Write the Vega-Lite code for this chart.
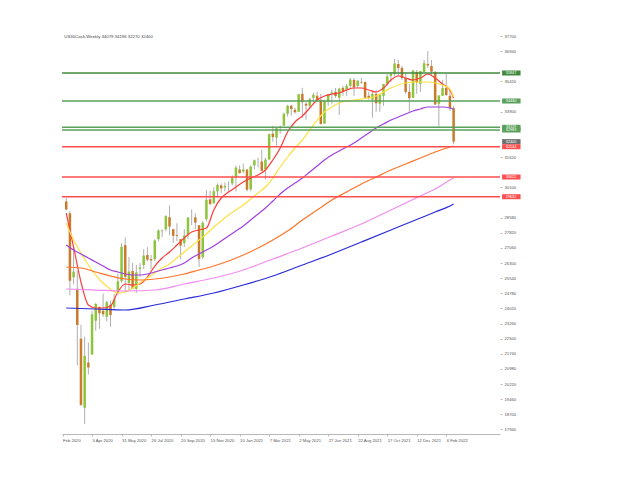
{
  "$schema": "https://vega.github.io/schema/vega-lite/v6.json",
  "autosize": "none",
  "width": 438,
  "height": 403,
  "padding": {"left": 62, "top": 31, "right": 140, "bottom": 46},
  "background": "white",
  "config": {
    "view": {"stroke": null},
    "font": "Liberation Sans",
    "axis": {"labelOverlap": false, "grid": false, "title": null, "labelFont": "Liberation Sans"},
    "axisX": {"domain": true, "domainColor": "#b8b8b8", "ticks": true, "tickSize": 2, "tickColor": "#b8b8b8", "labelFontSize": 4.2, "labelColor": "#555555", "labelAlign": "left", "labelPadding": 2, "labelOverlap": false, "labelFlush": false},
    "axisY": {"domain": false, "ticks": true, "tickSize": 2, "tickColor": "#b8b8b8", "labelFontSize": 4.2, "labelColor": "#555555", "labelPadding": 2, "labelOverlap": false, "labelFlush": false}
  },
  "title": {"text": "US30Cash,Weekly  34079 34196 32270 32400", "anchor": "start", "fontSize": 4.3, "font": "Liberation Sans", "fontWeight": "normal", "color": "#444444", "dx": 3, "dy": 8, "offset": 0},
  "datasets": {
    "candles": [
      {"d": "2020-02-16", "o": 29398, "h": 29568, "l": 28930, "c": 28992},
      {"d": "2020-02-23", "o": 28800, "h": 28900, "l": 24681, "c": 25409},
      {"d": "2020-03-01", "o": 25590, "h": 27102, "l": 25226, "c": 25864},
      {"d": "2020-03-08", "o": 25000, "h": 25900, "l": 21154, "c": 23186},
      {"d": "2020-03-15", "o": 22500, "h": 23200, "l": 19121, "c": 19174},
      {"d": "2020-03-22", "o": 19028, "h": 22600, "l": 18213, "c": 21637},
      {"d": "2020-03-29", "o": 21300, "h": 22300, "l": 20700, "c": 21053},
      {"d": "2020-04-05", "o": 21700, "h": 23900, "l": 21700, "c": 23719},
      {"d": "2020-04-12", "o": 23400, "h": 24300, "l": 22900, "c": 24242},
      {"d": "2020-04-19", "o": 24100, "h": 24100, "l": 23000, "c": 23775},
      {"d": "2020-04-26", "o": 23900, "h": 24760, "l": 23600, "c": 23724},
      {"d": "2020-05-03", "o": 23600, "h": 24400, "l": 23360, "c": 24331},
      {"d": "2020-05-10", "o": 24200, "h": 24400, "l": 23100, "c": 23685},
      {"d": "2020-05-17", "o": 24100, "h": 24750, "l": 24000, "c": 24465},
      {"d": "2020-05-24", "o": 24800, "h": 25760, "l": 24700, "c": 25383},
      {"d": "2020-05-31", "o": 25400, "h": 27300, "l": 25300, "c": 27111},
      {"d": "2020-06-07", "o": 27200, "h": 27580, "l": 24840, "c": 25605},
      {"d": "2020-06-14", "o": 25300, "h": 26600, "l": 24960, "c": 25871},
      {"d": "2020-06-21", "o": 25900, "h": 26300, "l": 25000, "c": 25016},
      {"d": "2020-06-28", "o": 25000, "h": 26200, "l": 24800, "c": 25827},
      {"d": "2020-07-05", "o": 26000, "h": 26300, "l": 25600, "c": 26075},
      {"d": "2020-07-12", "o": 26200, "h": 27000, "l": 26000, "c": 26672},
      {"d": "2020-07-19", "o": 26700, "h": 27100, "l": 26400, "c": 26470},
      {"d": "2020-07-26", "o": 26500, "h": 26700, "l": 26000, "c": 26428},
      {"d": "2020-08-02", "o": 26500, "h": 27500, "l": 26400, "c": 27433},
      {"d": "2020-08-09", "o": 27500, "h": 28000, "l": 27400, "c": 27931},
      {"d": "2020-08-16", "o": 27900, "h": 28000, "l": 27600, "c": 27930},
      {"d": "2020-08-23", "o": 28000, "h": 28700, "l": 27900, "c": 28654},
      {"d": "2020-08-30", "o": 28600, "h": 29200, "l": 27700, "c": 28133},
      {"d": "2020-09-06", "o": 28000, "h": 28000, "l": 27300, "c": 27666},
      {"d": "2020-09-13", "o": 27700, "h": 28300, "l": 27400, "c": 27657},
      {"d": "2020-09-20", "o": 27500, "h": 27500, "l": 26500, "c": 27174},
      {"d": "2020-09-27", "o": 27300, "h": 28000, "l": 27100, "c": 27683},
      {"d": "2020-10-04", "o": 27700, "h": 28600, "l": 27500, "c": 28587},
      {"d": "2020-10-11", "o": 28600, "h": 29000, "l": 28200, "c": 28606},
      {"d": "2020-10-18", "o": 28600, "h": 28800, "l": 28000, "c": 28336},
      {"d": "2020-10-25", "o": 28200, "h": 28200, "l": 26100, "c": 26502},
      {"d": "2020-11-01", "o": 26600, "h": 28400, "l": 26500, "c": 28323},
      {"d": "2020-11-08", "o": 28500, "h": 29960, "l": 28400, "c": 29480},
      {"d": "2020-11-15", "o": 29500, "h": 29930, "l": 29200, "c": 29263},
      {"d": "2020-11-22", "o": 29300, "h": 30100, "l": 29300, "c": 29910},
      {"d": "2020-11-29", "o": 29900, "h": 30300, "l": 29600, "c": 30218},
      {"d": "2020-12-06", "o": 30200, "h": 30300, "l": 29800, "c": 30046},
      {"d": "2020-12-13", "o": 30100, "h": 30350, "l": 29900, "c": 30179},
      {"d": "2020-12-20", "o": 30200, "h": 30400, "l": 29900, "c": 30200},
      {"d": "2020-12-27", "o": 30300, "h": 30700, "l": 30200, "c": 30606},
      {"d": "2021-01-03", "o": 30600, "h": 31200, "l": 29900, "c": 31098},
      {"d": "2021-01-10", "o": 31000, "h": 31200, "l": 30800, "c": 30814},
      {"d": "2021-01-17", "o": 30900, "h": 31300, "l": 30800, "c": 30997},
      {"d": "2021-01-24", "o": 31000, "h": 31000, "l": 29900, "c": 29983},
      {"d": "2021-01-31", "o": 30000, "h": 31200, "l": 29900, "c": 31148},
      {"d": "2021-02-07", "o": 31200, "h": 31500, "l": 31000, "c": 31458},
      {"d": "2021-02-14", "o": 31500, "h": 31600, "l": 31100, "c": 31494},
      {"d": "2021-02-21", "o": 31400, "h": 32000, "l": 30900, "c": 30932},
      {"d": "2021-02-28", "o": 31000, "h": 31600, "l": 30500, "c": 31496},
      {"d": "2021-03-07", "o": 31500, "h": 32800, "l": 31500, "c": 32779},
      {"d": "2021-03-14", "o": 32800, "h": 33200, "l": 32400, "c": 32628},
      {"d": "2021-03-21", "o": 32600, "h": 33100, "l": 32200, "c": 33073},
      {"d": "2021-03-28", "o": 33100, "h": 33200, "l": 32800, "c": 33153},
      {"d": "2021-04-04", "o": 33200, "h": 33850, "l": 33200, "c": 33801},
      {"d": "2021-04-11", "o": 33800, "h": 34250, "l": 33650, "c": 34200},
      {"d": "2021-04-18", "o": 34200, "h": 34250, "l": 33700, "c": 34043},
      {"d": "2021-04-25", "o": 34000, "h": 34100, "l": 33800, "c": 33875},
      {"d": "2021-05-02", "o": 33900, "h": 34800, "l": 33900, "c": 34778},
      {"d": "2021-05-09", "o": 34800, "h": 35100, "l": 33600, "c": 34382},
      {"d": "2021-05-16", "o": 34300, "h": 34400, "l": 33500, "c": 34208},
      {"d": "2021-05-23", "o": 34200, "h": 34600, "l": 34100, "c": 34529},
      {"d": "2021-05-30", "o": 34600, "h": 34850, "l": 34400, "c": 34756},
      {"d": "2021-06-06", "o": 34700, "h": 34900, "l": 34400, "c": 34480},
      {"d": "2021-06-13", "o": 34500, "h": 34800, "l": 33250, "c": 33290},
      {"d": "2021-06-20", "o": 33300, "h": 34500, "l": 33300, "c": 34434},
      {"d": "2021-06-27", "o": 34400, "h": 34800, "l": 34200, "c": 34786},
      {"d": "2021-07-04", "o": 34800, "h": 35000, "l": 34300, "c": 34870},
      {"d": "2021-07-11", "o": 34900, "h": 35100, "l": 34600, "c": 34687},
      {"d": "2021-07-18", "o": 34600, "h": 35100, "l": 33740, "c": 35062},
      {"d": "2021-07-25", "o": 35100, "h": 35200, "l": 34700, "c": 34935},
      {"d": "2021-08-01", "o": 35000, "h": 35300, "l": 34700, "c": 35209},
      {"d": "2021-08-08", "o": 35200, "h": 35600, "l": 35100, "c": 35515},
      {"d": "2021-08-15", "o": 35500, "h": 35600, "l": 34700, "c": 35120},
      {"d": "2021-08-22", "o": 35200, "h": 35500, "l": 35100, "c": 35456},
      {"d": "2021-08-29", "o": 35400, "h": 35600, "l": 35300, "c": 35369},
      {"d": "2021-09-05", "o": 35400, "h": 35400, "l": 34600, "c": 34608},
      {"d": "2021-09-12", "o": 34700, "h": 34900, "l": 34500, "c": 34585},
      {"d": "2021-09-19", "o": 34500, "h": 34900, "l": 33600, "c": 34798},
      {"d": "2021-09-26", "o": 34800, "h": 35000, "l": 33900, "c": 34326},
      {"d": "2021-10-03", "o": 34300, "h": 34800, "l": 33900, "c": 34746},
      {"d": "2021-10-10", "o": 34700, "h": 35300, "l": 34200, "c": 35295},
      {"d": "2021-10-17", "o": 35300, "h": 35800, "l": 35200, "c": 35677},
      {"d": "2021-10-24", "o": 35700, "h": 35900, "l": 35400, "c": 35820},
      {"d": "2021-10-31", "o": 35800, "h": 36550, "l": 35700, "c": 36328},
      {"d": "2021-11-07", "o": 36300, "h": 36500, "l": 35700, "c": 36100},
      {"d": "2021-11-14", "o": 36100, "h": 36200, "l": 35500, "c": 35602},
      {"d": "2021-11-21", "o": 35600, "h": 35850, "l": 34800, "c": 34899},
      {"d": "2021-11-28", "o": 34900, "h": 35300, "l": 33900, "c": 34580},
      {"d": "2021-12-05", "o": 34600, "h": 36000, "l": 34600, "c": 35971},
      {"d": "2021-12-12", "o": 35900, "h": 36000, "l": 34800, "c": 35365},
      {"d": "2021-12-19", "o": 35300, "h": 35950, "l": 34900, "c": 35951},
      {"d": "2021-12-26", "o": 35900, "h": 36500, "l": 35900, "c": 36338},
      {"d": "2022-01-02", "o": 36300, "h": 36950, "l": 36100, "c": 36231},
      {"d": "2022-01-09", "o": 36200, "h": 36500, "l": 35700, "c": 35912},
      {"d": "2022-01-16", "o": 35900, "h": 35950, "l": 34250, "c": 34265},
      {"d": "2022-01-23", "o": 34300, "h": 34700, "l": 33150, "c": 34725},
      {"d": "2022-01-30", "o": 34700, "h": 35500, "l": 34700, "c": 35089},
      {"d": "2022-02-06", "o": 35100, "h": 35800, "l": 34700, "c": 34738},
      {"d": "2022-02-13", "o": 34700, "h": 35000, "l": 33950, "c": 34079},
      {"d": "2022-02-20", "o": 34079, "h": 34196, "l": 32270, "c": 32400}
    ],
    "ma": [
      {"s": "red", "d": "2020-02-16", "v": 28813}, {"s": "red", "d": "2020-03-01", "v": 27105}, {"s": "red", "d": "2020-03-15", "v": 25346}, {"s": "red", "d": "2020-03-29", "v": 24191}, {"s": "red", "d": "2020-04-12", "v": 24040}, {"s": "red", "d": "2020-04-26", "v": 24040}, {"s": "red", "d": "2020-05-10", "v": 24141}, {"s": "red", "d": "2020-05-24", "v": 24844}, {"s": "red", "d": "2020-06-07", "v": 25246}, {"s": "red", "d": "2020-06-21", "v": 25196}, {"s": "red", "d": "2020-07-05", "v": 25246}, {"s": "red", "d": "2020-07-19", "v": 25598}, {"s": "red", "d": "2020-08-02", "v": 26150}, {"s": "red", "d": "2020-08-16", "v": 26552}, {"s": "red", "d": "2020-08-30", "v": 26854}, {"s": "red", "d": "2020-09-13", "v": 27205}, {"s": "red", "d": "2020-09-27", "v": 27557}, {"s": "red", "d": "2020-10-11", "v": 27858}, {"s": "red", "d": "2020-10-25", "v": 27959}, {"s": "red", "d": "2020-11-08", "v": 28059}, {"s": "red", "d": "2020-11-22", "v": 28964}, {"s": "red", "d": "2020-12-06", "v": 29567}, {"s": "red", "d": "2020-12-20", "v": 29868}, {"s": "red", "d": "2021-01-03", "v": 30119}, {"s": "red", "d": "2021-01-17", "v": 30371}, {"s": "red", "d": "2021-01-31", "v": 30571}, {"s": "red", "d": "2021-02-14", "v": 30722}, {"s": "red", "d": "2021-02-28", "v": 30974}, {"s": "red", "d": "2021-03-14", "v": 31476}, {"s": "red", "d": "2021-03-28", "v": 32079}, {"s": "red", "d": "2021-04-11", "v": 32882}, {"s": "red", "d": "2021-04-25", "v": 33385}, {"s": "red", "d": "2021-05-09", "v": 33686}, {"s": "red", "d": "2021-05-23", "v": 34088}, {"s": "red", "d": "2021-06-06", "v": 34490}, {"s": "red", "d": "2021-06-20", "v": 34691}, {"s": "red", "d": "2021-07-04", "v": 34791}, {"s": "red", "d": "2021-07-18", "v": 34842}, {"s": "red", "d": "2021-08-01", "v": 34993}, {"s": "red", "d": "2021-08-15", "v": 35093}, {"s": "red", "d": "2021-08-29", "v": 35093}, {"s": "red", "d": "2021-09-12", "v": 34993}, {"s": "red", "d": "2021-09-26", "v": 34892}, {"s": "red", "d": "2021-10-10", "v": 35093}, {"s": "red", "d": "2021-10-24", "v": 35495}, {"s": "red", "d": "2021-11-07", "v": 35696}, {"s": "red", "d": "2021-11-21", "v": 35595}, {"s": "red", "d": "2021-12-05", "v": 35495}, {"s": "red", "d": "2021-12-19", "v": 35595}, {"s": "red", "d": "2022-01-02", "v": 35796}, {"s": "red", "d": "2022-01-16", "v": 35595}, {"s": "red", "d": "2022-01-30", "v": 35294}, {"s": "red", "d": "2022-02-13", "v": 34993}, {"s": "red", "d": "2022-02-20", "v": 34591},
      {"s": "yellow", "d": "2020-02-16", "v": 28310}, {"s": "yellow", "d": "2020-03-01", "v": 27456}, {"s": "yellow", "d": "2020-03-15", "v": 26803}, {"s": "yellow", "d": "2020-03-29", "v": 26200}, {"s": "yellow", "d": "2020-04-12", "v": 25698}, {"s": "yellow", "d": "2020-04-26", "v": 25296}, {"s": "yellow", "d": "2020-05-10", "v": 24995}, {"s": "yellow", "d": "2020-05-24", "v": 24794}, {"s": "yellow", "d": "2020-06-07", "v": 24844}, {"s": "yellow", "d": "2020-06-21", "v": 25045}, {"s": "yellow", "d": "2020-07-05", "v": 25296}, {"s": "yellow", "d": "2020-07-19", "v": 25547}, {"s": "yellow", "d": "2020-08-02", "v": 25798}, {"s": "yellow", "d": "2020-08-16", "v": 26050}, {"s": "yellow", "d": "2020-08-30", "v": 26251}, {"s": "yellow", "d": "2020-09-13", "v": 26552}, {"s": "yellow", "d": "2020-09-27", "v": 26854}, {"s": "yellow", "d": "2020-10-11", "v": 27155}, {"s": "yellow", "d": "2020-10-25", "v": 27456}, {"s": "yellow", "d": "2020-11-08", "v": 27758}, {"s": "yellow", "d": "2020-11-22", "v": 28110}, {"s": "yellow", "d": "2020-12-06", "v": 28411}, {"s": "yellow", "d": "2020-12-20", "v": 28712}, {"s": "yellow", "d": "2021-01-03", "v": 28964}, {"s": "yellow", "d": "2021-01-17", "v": 29215}, {"s": "yellow", "d": "2021-01-31", "v": 29516}, {"s": "yellow", "d": "2021-02-14", "v": 29818}, {"s": "yellow", "d": "2021-02-28", "v": 30119}, {"s": "yellow", "d": "2021-03-14", "v": 30571}, {"s": "yellow", "d": "2021-03-28", "v": 31124}, {"s": "yellow", "d": "2021-04-11", "v": 31627}, {"s": "yellow", "d": "2021-04-25", "v": 32079}, {"s": "yellow", "d": "2021-05-09", "v": 32481}, {"s": "yellow", "d": "2021-05-23", "v": 32983}, {"s": "yellow", "d": "2021-06-06", "v": 33485}, {"s": "yellow", "d": "2021-06-20", "v": 33887}, {"s": "yellow", "d": "2021-07-04", "v": 34139}, {"s": "yellow", "d": "2021-07-18", "v": 34340}, {"s": "yellow", "d": "2021-08-01", "v": 34440}, {"s": "yellow", "d": "2021-08-15", "v": 34490}, {"s": "yellow", "d": "2021-08-29", "v": 34540}, {"s": "yellow", "d": "2021-09-12", "v": 34591}, {"s": "yellow", "d": "2021-09-26", "v": 34691}, {"s": "yellow", "d": "2021-10-10", "v": 34892}, {"s": "yellow", "d": "2021-10-24", "v": 35093}, {"s": "yellow", "d": "2021-11-07", "v": 35244}, {"s": "yellow", "d": "2021-11-21", "v": 35344}, {"s": "yellow", "d": "2021-12-05", "v": 35394}, {"s": "yellow", "d": "2021-12-19", "v": 35394}, {"s": "yellow", "d": "2022-01-02", "v": 35394}, {"s": "yellow", "d": "2022-01-16", "v": 35344}, {"s": "yellow", "d": "2022-01-30", "v": 35244}, {"s": "yellow", "d": "2022-02-13", "v": 35043}, {"s": "yellow", "d": "2022-02-20", "v": 34641},
      {"s": "purple", "d": "2020-02-16", "v": 27205}, {"s": "purple", "d": "2020-03-01", "v": 26954}, {"s": "purple", "d": "2020-03-15", "v": 26753}, {"s": "purple", "d": "2020-03-29", "v": 26552}, {"s": "purple", "d": "2020-04-12", "v": 26351}, {"s": "purple", "d": "2020-04-26", "v": 26150}, {"s": "purple", "d": "2020-05-10", "v": 25949}, {"s": "purple", "d": "2020-05-24", "v": 25849}, {"s": "purple", "d": "2020-06-07", "v": 25748}, {"s": "purple", "d": "2020-06-21", "v": 25698}, {"s": "purple", "d": "2020-07-05", "v": 25698}, {"s": "purple", "d": "2020-07-19", "v": 25748}, {"s": "purple", "d": "2020-08-02", "v": 25849}, {"s": "purple", "d": "2020-08-16", "v": 25949}, {"s": "purple", "d": "2020-08-30", "v": 26050}, {"s": "purple", "d": "2020-09-13", "v": 26150}, {"s": "purple", "d": "2020-09-27", "v": 26301}, {"s": "purple", "d": "2020-10-11", "v": 26552}, {"s": "purple", "d": "2020-10-25", "v": 26753}, {"s": "purple", "d": "2020-11-08", "v": 26954}, {"s": "purple", "d": "2020-11-22", "v": 27155}, {"s": "purple", "d": "2020-12-06", "v": 27406}, {"s": "purple", "d": "2020-12-20", "v": 27657}, {"s": "purple", "d": "2021-01-03", "v": 27909}, {"s": "purple", "d": "2021-01-17", "v": 28160}, {"s": "purple", "d": "2021-01-31", "v": 28461}, {"s": "purple", "d": "2021-02-14", "v": 28763}, {"s": "purple", "d": "2021-02-28", "v": 29064}, {"s": "purple", "d": "2021-03-14", "v": 29416}, {"s": "purple", "d": "2021-03-28", "v": 29768}, {"s": "purple", "d": "2021-04-11", "v": 30069}, {"s": "purple", "d": "2021-04-25", "v": 30320}, {"s": "purple", "d": "2021-05-09", "v": 30571}, {"s": "purple", "d": "2021-05-23", "v": 30873}, {"s": "purple", "d": "2021-06-06", "v": 31174}, {"s": "purple", "d": "2021-06-20", "v": 31476}, {"s": "purple", "d": "2021-07-04", "v": 31727}, {"s": "purple", "d": "2021-07-18", "v": 31928}, {"s": "purple", "d": "2021-08-01", "v": 32129}, {"s": "purple", "d": "2021-08-15", "v": 32330}, {"s": "purple", "d": "2021-08-29", "v": 32581}, {"s": "purple", "d": "2021-09-12", "v": 32832}, {"s": "purple", "d": "2021-09-26", "v": 33084}, {"s": "purple", "d": "2021-10-10", "v": 33284}, {"s": "purple", "d": "2021-10-24", "v": 33485}, {"s": "purple", "d": "2021-11-07", "v": 33636}, {"s": "purple", "d": "2021-11-21", "v": 33787}, {"s": "purple", "d": "2021-12-05", "v": 33938}, {"s": "purple", "d": "2021-12-19", "v": 34038}, {"s": "purple", "d": "2022-01-02", "v": 34139}, {"s": "purple", "d": "2022-01-16", "v": 34139}, {"s": "purple", "d": "2022-01-30", "v": 34139}, {"s": "purple", "d": "2022-02-13", "v": 34088}, {"s": "purple", "d": "2022-02-20", "v": 34038},
      {"s": "orange", "d": "2020-02-16", "v": 26100}, {"s": "orange", "d": "2020-03-15", "v": 26050}, {"s": "orange", "d": "2020-04-12", "v": 25849}, {"s": "orange", "d": "2020-05-10", "v": 25648}, {"s": "orange", "d": "2020-06-07", "v": 25497}, {"s": "orange", "d": "2020-07-05", "v": 25447}, {"s": "orange", "d": "2020-08-02", "v": 25497}, {"s": "orange", "d": "2020-08-30", "v": 25598}, {"s": "orange", "d": "2020-09-27", "v": 25748}, {"s": "orange", "d": "2020-10-25", "v": 25949}, {"s": "orange", "d": "2020-11-22", "v": 26150}, {"s": "orange", "d": "2020-12-20", "v": 26401}, {"s": "orange", "d": "2021-01-17", "v": 26703}, {"s": "orange", "d": "2021-02-14", "v": 27054}, {"s": "orange", "d": "2021-03-14", "v": 27456}, {"s": "orange", "d": "2021-04-11", "v": 27909}, {"s": "orange", "d": "2021-05-09", "v": 28461}, {"s": "orange", "d": "2021-06-06", "v": 28964}, {"s": "orange", "d": "2021-07-04", "v": 29466}, {"s": "orange", "d": "2021-08-01", "v": 29868}, {"s": "orange", "d": "2021-08-29", "v": 30270}, {"s": "orange", "d": "2021-09-26", "v": 30622}, {"s": "orange", "d": "2021-10-24", "v": 30974}, {"s": "orange", "d": "2021-11-21", "v": 31275}, {"s": "orange", "d": "2021-12-19", "v": 31576}, {"s": "orange", "d": "2022-01-16", "v": 31878}, {"s": "orange", "d": "2022-02-13", "v": 32129}, {"s": "orange", "d": "2022-02-20", "v": 32179},
      {"s": "pink", "d": "2020-02-16", "v": 24995}, {"s": "pink", "d": "2020-04-12", "v": 24944}, {"s": "pink", "d": "2020-06-07", "v": 24894}, {"s": "pink", "d": "2020-08-02", "v": 24944}, {"s": "pink", "d": "2020-09-27", "v": 25246}, {"s": "pink", "d": "2020-11-22", "v": 25547}, {"s": "pink", "d": "2021-01-17", "v": 25949}, {"s": "pink", "d": "2021-03-14", "v": 26502}, {"s": "pink", "d": "2021-05-09", "v": 27054}, {"s": "pink", "d": "2021-07-04", "v": 27657}, {"s": "pink", "d": "2021-08-29", "v": 28260}, {"s": "pink", "d": "2021-10-24", "v": 28964}, {"s": "pink", "d": "2021-12-19", "v": 29667}, {"s": "pink", "d": "2022-01-16", "v": 30019}, {"s": "pink", "d": "2022-02-13", "v": 30471}, {"s": "pink", "d": "2022-02-20", "v": 30571},
      {"s": "blue", "d": "2020-02-16", "v": 24040}, {"s": "blue", "d": "2020-04-12", "v": 23990}, {"s": "blue", "d": "2020-06-07", "v": 23940}, {"s": "blue", "d": "2020-08-02", "v": 24191}, {"s": "blue", "d": "2020-09-27", "v": 24492}, {"s": "blue", "d": "2020-11-22", "v": 24794}, {"s": "blue", "d": "2021-01-17", "v": 25196}, {"s": "blue", "d": "2021-03-14", "v": 25648}, {"s": "blue", "d": "2021-05-09", "v": 26200}, {"s": "blue", "d": "2021-07-04", "v": 26753}, {"s": "blue", "d": "2021-08-29", "v": 27356}, {"s": "blue", "d": "2021-10-24", "v": 27959}, {"s": "blue", "d": "2021-12-19", "v": 28562}, {"s": "blue", "d": "2022-01-16", "v": 28863}, {"s": "blue", "d": "2022-02-13", "v": 29165}, {"s": "blue", "d": "2022-02-20", "v": 29265}
    ],
    "levels": [
      {"p": 35847, "k": "g1"},
      {"p": 34440, "k": "g"},
      {"p": 33119, "k": "g"},
      {"p": 32983, "k": "g"},
      {"p": 32144, "k": "r"},
      {"p": 30622, "k": "r"},
      {"p": 29632, "k": "r"}
    ],
    "boxes": [
      {"p": 35847, "k": "g1"},
      {"p": 34440, "k": "g"},
      {"p": 33119, "k": "g"},
      {"p": 32983, "k": "g"},
      {"p": 32400, "k": "b"},
      {"p": 32144, "k": "r"},
      {"p": 30622, "k": "r"},
      {"p": 29632, "k": "r"}
    ]
  },
  "layer": [
    {
      "data": {"name": "candles"},
      "mark": {"type": "rule", "color": "#9a9a9a", "strokeWidth": 0.8},
      "encoding": {
        "x": {"field": "d", "type": "temporal", "title": null,
          "scale": {"type": "utc", "domain": [{"year": 2020, "month": 2, "date": 8, "utc": true}, {"year": 2022, "month": 5, "date": 19, "utc": true}], "nice": false, "padding": 0},
          "axis": {"orient": "bottom", "tickCount": 200,
            "values": [
              {"year": 2020, "month": 2, "date": 9, "utc": true},
              {"year": 2020, "month": 4, "date": 5, "utc": true},
              {"year": 2020, "month": 5, "date": 31, "utc": true},
              {"year": 2020, "month": 7, "date": 26, "utc": true},
              {"year": 2020, "month": 9, "date": 20, "utc": true},
              {"year": 2020, "month": 11, "date": 15, "utc": true},
              {"year": 2021, "month": 1, "date": 10, "utc": true},
              {"year": 2021, "month": 3, "date": 7, "utc": true},
              {"year": 2021, "month": 5, "date": 2, "utc": true},
              {"year": 2021, "month": 6, "date": 27, "utc": true},
              {"year": 2021, "month": 8, "date": 22, "utc": true},
              {"year": 2021, "month": 10, "date": 17, "utc": true},
              {"year": 2021, "month": 12, "date": 12, "utc": true},
              {"year": 2022, "month": 2, "date": 6, "utc": true}
            ],
            "labelOverlap": false,
            "labelExpr": "datum.index == 0 ? 'Feb 2020' : utcFormat(datum.value, '%-d %b %Y')"}},
        "y": {"field": "l", "type": "quantitative", "title": null,
          "scale": {"domain": [17711, 37957], "zero": false, "nice": false, "padding": 0},
          "axis": {"orient": "right", "format": "d", "labelOverlap": false, "tickCount": 200,
            "values": [37700, 36940, 35420, 33900, 31620, 30100, 28580, 27820, 27060, 26300, 25540, 24780, 24020, 23260, 22500, 21740, 20980, 20220, 19460, 18700, 17940]}},
        "y2": {"field": "h"}
      }
    },
    {
      "data": {"name": "candles"},
      "mark": {"type": "bar", "width": 2.5},
      "encoding": {
        "x": {"field": "d", "type": "temporal", "title": null, "scale": {"type": "utc", "domain": [{"year": 2020, "month": 2, "date": 8, "utc": true}, {"year": 2022, "month": 5, "date": 19, "utc": true}], "nice": false, "padding": 0}},
        "y": {"field": "o", "type": "quantitative", "title": null, "scale": {"domain": [17711, 37957], "zero": false, "nice": false, "padding": 0}},
        "y2": {"field": "c"},
        "color": {"condition": {"test": "datum.c >= datum.o", "value": "#8cc43c"}, "value": "#c97a2a"}
      }
    },
    {
      "data": {"name": "ma"},
      "mark": {"type": "line", "strokeWidth": 1.2, "interpolate": "monotone"},
      "encoding": {
        "x": {"field": "d", "type": "temporal", "title": null},
        "y": {"field": "v", "type": "quantitative", "title": null},
        "color": {"field": "s", "type": "nominal", "legend": null,
          "scale": {"domain": ["blue", "pink", "orange", "purple", "yellow", "red"], "range": ["#2a2ad8", "#f08cf0", "#ff7428", "#a040e0", "#ffe040", "#ff3a3a"]}}
      }
    },
    {
      "data": {"name": "levels"},
      "mark": {"type": "rule", "strokeWidth": 1.4},
      "encoding": {
        "y": {"field": "p", "type": "quantitative", "title": null},
        "stroke": {"field": "k", "type": "nominal", "legend": null,
          "scale": {"domain": ["g1", "g", "r", "b"], "range": ["#3f8a3f", "#5a9f5a", "#ff4d4d", "#707070"]}}
      }
    },
    {
      "data": {"name": "boxes"},
      "mark": {"type": "bar", "size": 5},
      "encoding": {
        "x": {"datum": {"year": 2022, "month": 5, "date": 23, "utc": true}, "type": "temporal"},
        "x2": {"datum": {"year": 2022, "month": 6, "date": 27, "utc": true}},
        "y": {"field": "p", "type": "quantitative", "title": null},
        "fill": {"field": "k", "type": "nominal", "legend": null,
          "scale": {"domain": ["g1", "g", "r", "b"], "range": ["#3f8a3f", "#5a9f5a", "#ff4d4d", "#707070"]}}
      }
    },
    {
      "data": {"name": "boxes"},
      "mark": {"type": "text", "fontSize": 3.8, "font": "Liberation Sans", "color": "white", "align": "center", "baseline": "middle"},
      "encoding": {
        "x": {"datum": {"year": 2022, "month": 6, "date": 9, "utc": true}, "type": "temporal"},
        "y": {"field": "p", "type": "quantitative", "title": null},
        "text": {"field": "p", "type": "quantitative", "format": "d"}
      }
    }
  ]
}
